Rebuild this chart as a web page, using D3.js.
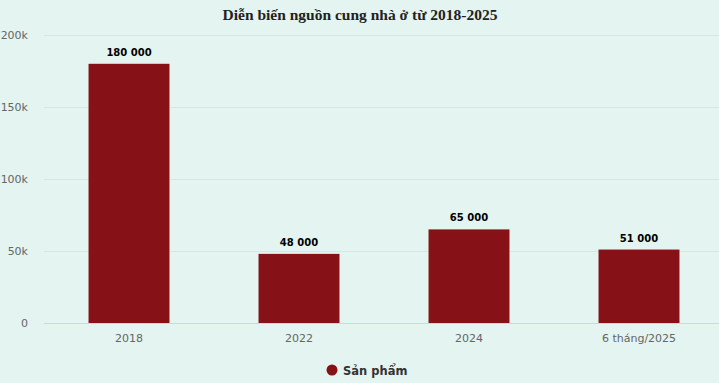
<!DOCTYPE html>
<html><head><meta charset="utf-8">
<script src="https://cdn.jsdelivr.net/npm/d3@7"></script>
<style>body{margin:0;background:#e3f4f1;}svg{display:block;}</style>
</head><body>
<svg id="c" width="719" height="383"></svg>
<script>
const categories = ["2018", "2022", "2024", "6 tháng/2025"];
const values = [180000, 48000, 65000, 51000];
const valueLabels = ["180 000", "48 000", "65 000", "51 000"];
const yTicks = [0, 50000, 100000, 150000, 200000];
const yTickLabels = ["0", "50k", "100k", "150k", "200k"];
const seriesName = "Sản phẩm";
const title = "Diễn biến nguồn cung nhà ở từ 2018-2025";

(function () {
const svg = d3.select("#c");
const W = 719, H = 383;
const pLeft = 44, pRight = 724, pTop = 35, pBottom = 323;
const barColor = "#861217";

svg.append("rect").attr("width", W).attr("height", H).attr("fill", "#e3f4f1");

const x = d3.scaleBand().domain(categories).range([pLeft, pRight]).padding(0);
const y = d3.scaleLinear().domain([0, 200000]).range([pBottom, pTop]);

svg.append("text").attr("x", 360).attr("y", 20).attr("text-anchor", "middle")
  .attr("font-family", "Liberation Serif, Times New Roman, serif").attr("font-weight", "bold")
  .attr("font-size", 15.5).attr("fill", "#222").text(title);

svg.append("g").selectAll("line").data(yTicks.slice(1)).join("line")
  .attr("x1", pLeft).attr("x2", W).attr("y1", d => Math.round(y(d)) + 0.5).attr("y2", d => Math.round(y(d)) + 0.5)
  .attr("stroke", "#d5e6e3").attr("stroke-width", 1);

svg.append("g").selectAll("text").data(yTicks).join("text")
  .attr("x", 28).attr("y", d => y(d) + 4).attr("text-anchor", "end")
  .attr("font-family", "DejaVu Sans, sans-serif").attr("font-size", 11).attr("fill", "#666")
  .text((d, i) => yTickLabels[i]);

const bw = x.bandwidth() * 0.476;
svg.append("g").selectAll("rect").data(values).join("rect")
  .attr("x", (d, i) => x(categories[i]) + x.bandwidth() / 2 - bw / 2)
  .attr("width", bw)
  .attr("y", d => y(d)).attr("height", d => pBottom - y(d))
  .attr("fill", barColor);

svg.append("line").attr("x1", pLeft).attr("x2", W).attr("y1", pBottom + 0.5).attr("y2", pBottom + 0.5)
  .attr("stroke", "#ccd6eb");

svg.append("g").selectAll("text").data(categories).join("text")
  .attr("x", d => x(d) + x.bandwidth() / 2).attr("y", 342).attr("text-anchor", "middle")
  .attr("font-family", "DejaVu Sans, sans-serif").attr("font-size", 11).attr("fill", "#666")
  .text(d => d);

svg.append("g").selectAll("text").data(values).join("text")
  .attr("x", (d, i) => x(categories[i]) + x.bandwidth() / 2).attr("y", d => y(d) - 8)
  .attr("text-anchor", "middle")
  .attr("font-family", "DejaVu Sans, sans-serif").attr("font-weight", "bold").attr("font-size", 10)
  .attr("fill", "#000").text((d, i) => valueLabels[i]);

const lg = svg.append("g");
lg.append("circle").attr("cx", 332).attr("cy", 370).attr("r", 5.5).attr("fill", barColor);
lg.append("text").attr("x", 343).attr("y", 374.5).attr("font-family", "DejaVu Sans, sans-serif")
  .attr("font-size", 11.5).attr("font-weight", "bold").attr("fill", "#333").text(seriesName);
})();
</script>
</body></html>
